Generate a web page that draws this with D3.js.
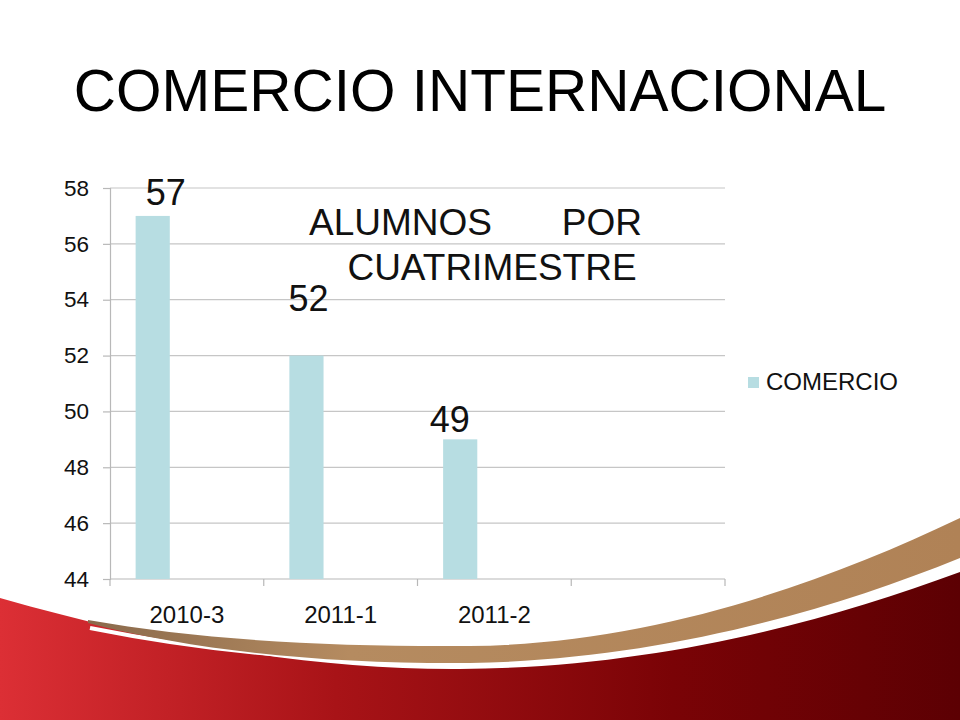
<!DOCTYPE html>
<html><head><meta charset="utf-8">
<script src="https://cdn.jsdelivr.net/npm/d3@7"></script>
<style>html,body{margin:0;padding:0;background:#fff;}svg{display:block;font-family:"Liberation Sans",Arial,sans-serif;}</style>
</head><body>
<svg id="c" width="960" height="720"></svg>
<script>
// ---- data ----
const categories = ["2010-3", "2011-1", "2011-2", ""];
const seriesName = "COMERCIO";
const values = [57, 52, 49, null];
const yTicks = [44, 46, 48, 50, 52, 54, 56, 58];
const title = "COMERCIO INTERNACIONAL";
const subtitleLine1 = ["ALUMNOS", "POR"];
const subtitleLine2 = "CUATRIMESTRE";
// manual label nudges (dx, dy) as placed in the original slide
const labelNudge = [[13, -11], [2, -45], [-10.5, -7], [0, 0]];

(function(){
const svg = d3.select("#c");
const W = 960, H = 720;

// ---- background decoration ----
const defs = svg.append("defs");
const rg = defs.append("linearGradient").attr("id","red").attr("x1","0").attr("x2","1").attr("y1","0").attr("y2","0");
rg.append("stop").attr("offset","0").attr("stop-color","#dc2f35");
rg.append("stop").attr("offset","0.35").attr("stop-color","#a81317");
rg.append("stop").attr("offset","0.7").attr("stop-color","#7a0306");
rg.append("stop").attr("offset","1").attr("stop-color","#5c0003");
const bg = defs.append("linearGradient").attr("id","brown").attr("x1","0").attr("x2","1");
bg.append("stop").attr("offset","0").attr("stop-color","#8a6a4c");
bg.append("stop").attr("offset","0.3").attr("stop-color","#b58b60");
bg.append("stop").attr("offset","1").attr("stop-color","#b08256");

svg.append("rect").attr("width",W).attr("height",H).attr("fill","#ffffff");

// red swoosh
svg.append("path")
  .attr("d","M0,598 C140,638 300,670 460,669 C650,668 820,624 960,572 L960,720 L0,720 Z")
  .attr("fill","url(#red)");
// white highlight edge
svg.append("path")
  .attr("d","M90,628 C210,652 330,663 460,662 C650,661 820,615 960,562")
  .attr("fill","none").attr("stroke","#ffffff").attr("stroke-width",4);
// brown band
svg.append("path")
  .attr("d","M88,620 C200,640 330,647 470,646 C650,644 820,585 960,518 L960,558 C820,615 650,660 470,663 C330,664 200,652 88,623 Z")
  .attr("fill","url(#brown)");

// ---- chart ----
const pLeft = 110, pRight = 725, pTop = 188, pBottom = 579;
const x0 = d3.scaleBand().domain(categories.map((d,i)=>i)).range([pLeft, pRight]).paddingInner(0).paddingOuter(0);
const bw = x0.bandwidth();
const gap = bw * 0.75 / 4.5;
const x1 = d3.scaleBand().domain([0,1,2]).range([gap, bw - gap]).padding(0);
const y = d3.scaleLinear().domain([44, 58]).range([pBottom, pTop]);

const g = svg.append("g");

// gridlines
g.append("g").selectAll("line").data(yTicks.filter(t=>t!==44)).join("line")
  .attr("x1", pLeft).attr("x2", pRight)
  .attr("y1", d=>y(d)).attr("y2", d=>y(d))
  .attr("stroke","#c6c6c6").attr("stroke-width",1.2);

// y axis
const yAxis = d3.axisLeft(y).tickValues(yTicks).tickSize(7).tickPadding(14);
const ya = g.append("g").attr("transform",`translate(${pLeft},0)`).call(yAxis);
ya.select(".domain").attr("stroke","#b8b8b8").attr("stroke-width",1.2);
ya.selectAll(".tick line").attr("stroke","#b8b8b8").attr("stroke-width",1.2);
ya.selectAll("text").attr("font-size",22.5).attr("fill","#111").attr("font-family","Liberation Sans, Arial, sans-serif");

// x axis with ticks at category boundaries
const xa = g.append("g").attr("transform",`translate(0,${pBottom})`);
xa.append("line").attr("x1",pLeft).attr("x2",pRight).attr("stroke","#b8b8b8").attr("stroke-width",1.2);
const bounds = categories.map((d,i)=>x0(i)).concat([pRight]);
xa.selectAll("line.tk").data(bounds).join("line").attr("class","tk")
  .attr("x1",d=>d).attr("x2",d=>d).attr("y1",0).attr("y2",7)
  .attr("stroke","#b8b8b8").attr("stroke-width",1.2);
xa.selectAll("text").data(categories).join("text")
  .attr("x",(d,i)=>x0(i)+bw/2).attr("y",44)
  .attr("text-anchor","middle").attr("font-size",24).attr("fill","#111")
  .text(d=>d);

// bars
const barData = values.map((v,i)=>({v,i})).filter(d=>d.v!=null);
g.append("g").selectAll("rect").data(barData).join("rect")
  .attr("x", d=>x0(d.i)+x1(0))
  .attr("width", x1.bandwidth())
  .attr("y", d=>y(d.v))
  .attr("height", d=>y(44)-y(d.v))
  .attr("fill","#b7dde2");

// value labels
g.append("g").selectAll("text").data(barData).join("text")
  .attr("x", d=>x0(d.i)+x1(0)+x1.bandwidth()/2 + labelNudge[d.i][0])
  .attr("y", d=>y(d.v) + labelNudge[d.i][1])
  .attr("text-anchor","middle").attr("font-size",36).attr("fill","#111")
  .text(d=>d.v);

// subtitle (justified text box)
svg.append("text").attr("x",309).attr("y",235).attr("font-size",37).attr("fill","#111").text(subtitleLine1[0]);
svg.append("text").attr("x",642).attr("y",235).attr("text-anchor","end").attr("font-size",37).attr("fill","#111").text(subtitleLine1[1]);
svg.append("text").attr("x",492).attr("y",280).attr("text-anchor","middle").attr("font-size",37).attr("fill","#111").text(subtitleLine2);

// legend
const lg = svg.append("g").attr("transform","translate(748,377)");
lg.append("rect").attr("width",11).attr("height",11).attr("fill","#b7dde2");
lg.append("text").attr("x",18).attr("y",13).attr("font-size",24).attr("fill","#111").text(seriesName);

// title
svg.append("text").attr("x",480).attr("y",111).attr("text-anchor","middle")
  .attr("font-size",58.5).attr("fill","#000").text(title);
})();
</script>
</body></html>
